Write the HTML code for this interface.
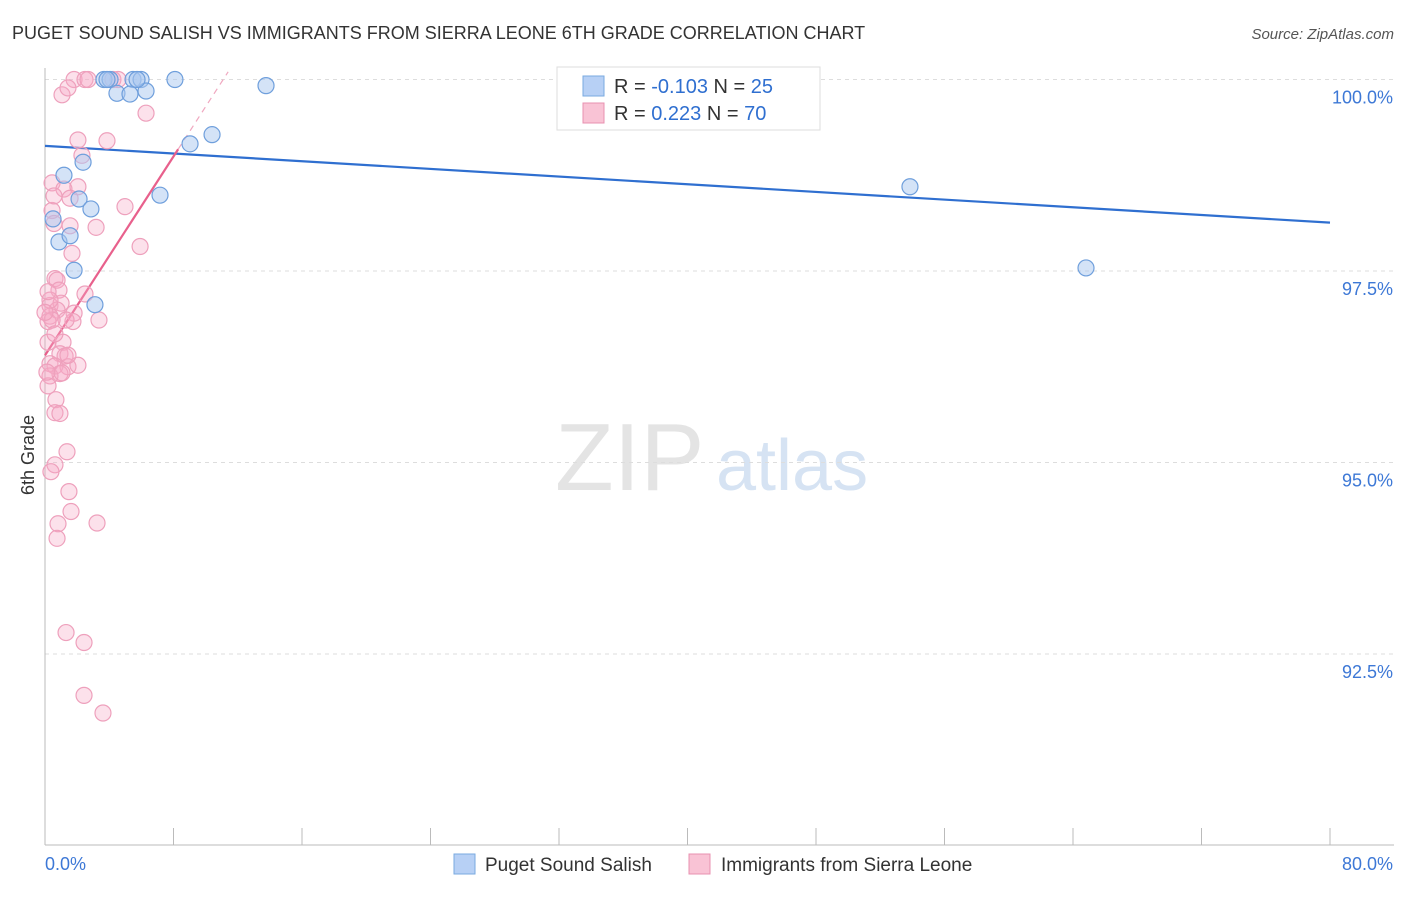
<!DOCTYPE html>
<html><head><meta charset="utf-8"><style>
body{margin:0;background:#fff;font-family:"Liberation Sans",sans-serif;}
svg text{font-family:"Liberation Sans",sans-serif;}
</style></head><body>
<svg id="chart" width="1406" height="892" viewBox="0 0 1406 892">
<text x="12" y="39" font-size="18" fill="#333">PUGET SOUND SALISH VS IMMIGRANTS FROM SIERRA LEONE 6TH GRADE CORRELATION CHART</text>
<text x="1394" y="39" font-size="15" fill="#555" font-style="italic" text-anchor="end">Source: ZipAtlas.com</text>
<text x="555" y="490" font-size="96" fill="#e4e4e4" font-family="Liberation Serif">ZIP</text>
<text x="716" y="490" font-size="72" fill="#d6e3f3">atlas</text>
<text transform="translate(34,455) rotate(-90)" font-size="18" fill="#333" text-anchor="middle">6th Grade</text>
<g id="grid"></g><g id="axes"></g><g id="lines"></g><g id="pts"></g>
<g>
<rect x="557" y="67" width="263" height="63" fill="#fff" stroke="#ddd"/>
<rect x="583" y="76" width="21" height="20" fill="#b7d0f5" stroke="#7aaae0"/>
<rect x="583" y="103" width="21" height="20" fill="#f9c3d5" stroke="#e890b0"/>
<text x="614" y="93" font-size="20" fill="#333">R = <tspan fill="#2f6fd0">-0.103</tspan>   N = <tspan fill="#2f6fd0">25</tspan></text>
<text x="614" y="120" font-size="20" fill="#333">R =  <tspan fill="#2f6fd0">0.223</tspan>   N = <tspan fill="#2f6fd0">70</tspan></text>
</g>
<g>
<rect x="454" y="854" width="21" height="20" fill="#b7d0f5" stroke="#7aaae0"/>
<text x="485" y="871" font-size="19" fill="#333">Puget Sound Salish</text>
<rect x="689" y="854" width="21" height="20" fill="#f9c3d5" stroke="#e890b0"/>
<text x="721" y="871" font-size="19" fill="#333">Immigrants from Sierra Leone</text>
</g>
</svg>
<script>
const blueX=[3.67,4.05,5.48,5.98,8.09,4.48,5.29,6.29,13.76,9.03,10.40,2.37,1.18,2.12,2.86,7.16,0.50,0.87,1.56,1.81,3.11,53.85,64.81,3.86,5.73];
const blueY=[100,100,100,100,100,99.82,99.81,99.85,99.92,99.16,99.28,98.92,98.75,98.44,98.31,98.49,98.18,97.88,97.96,97.51,97.06,98.60,97.54,100,100];
const pinkX=[1.81,2.49,2.68,4.23,4.55,1.06,1.43,6.29,2.05,3.86,2.30,0.44,1.18,2.05,1.56,4.98,0.44,0.56,1.56,3.18,1.68,5.92,0.62,0.75,0.87,2.49,0.31,1.00,0.75,1.81,3.36,0.31,0.19,1.74,1.31,0.19,1.12,0.93,1.25,0.31,0.62,1.43,2.05,0.93,0.31,0.19,0.68,0.62,0.93,1.37,0.62,0.37,1.49,1.62,0.81,3.24,0.75,1.31,2.43,2.43,3.61,0.12,0.44,0.62,1.06,0.31,0.56,0.19,1.43,0];
const pinkY=[100,100,100,100,100,99.80,99.89,99.56,99.21,99.20,99.01,98.65,98.57,98.60,98.45,98.34,98.29,98.12,98.09,98.07,97.73,97.82,97.40,97.38,97.25,97.20,97.05,97.08,96.99,96.95,96.86,96.91,96.84,96.84,96.86,96.57,96.57,96.42,96.39,96.29,96.26,96.25,96.27,96.16,96.13,96.00,95.82,95.65,95.64,95.14,94.97,94.88,94.62,94.36,94.20,94.21,94.01,92.78,92.65,91.96,91.73,96.18,96.86,96.68,96.17,97.12,98.48,97.23,96.40,96.96];
const yTicks=[100,97.5,95,92.5];
const yTickLabels=["100.0%","97.5%","95.0%","92.5%"];
const xTicks=[0,8,16,24,32,40,48,56,64,72,80];
const xLabels=["0.0%","80.0%"];
const NS="http://www.w3.org/2000/svg";
const sx=v=>45+v*(1285/80);
const sy=v=>79.5+(100-v)*76.6;
function mk(p,t,a){const e=document.createElementNS(NS,t);for(const k in a)e.setAttribute(k,a[k]);document.getElementById(p).appendChild(e);return e;}
yTicks.forEach((t,i)=>{
 const g=mk('grid','line',{x1:45,x2:1394,y1:sy(t),y2:sy(t),stroke:'#ddd','stroke-dasharray':'4,4'});
 
 
 const l=mk('grid','text',{x:1393,y:sy(t)+24,'font-size':18,fill:'#3d78d6','text-anchor':'end'});
 l.textContent=yTickLabels[i];
 
 
});
const ax=mk('axes','line',{x1:45,x2:1394,y1:845,y2:845,stroke:'#bbb'});


const ay=mk('axes','line',{x1:45,x2:45,y1:68,y2:845,stroke:'#bbb'});


xTicks.forEach(t=>{
 const k=mk('axes','line',{x1:sx(t),x2:sx(t),y1:828,y2:845,stroke:'#bbb'});
 
 
});
const xl0=mk('axes','text',{x:45,y:870,'font-size':18,fill:'#3d78d6'});xl0.textContent=xLabels[0];


const xl1=mk('axes','text',{x:1393,y:870,'font-size':18,fill:'#3d78d6','text-anchor':'end'});xl1.textContent=xLabels[1];


function reg(X,Y){const n=X.length;let mx=0,my=0;for(let i=0;i<n;i++){mx+=X[i];my+=Y[i];}mx/=n;my/=n;let sxy=0,sxx=0;for(let i=0;i<n;i++){sxy+=(X[i]-mx)*(Y[i]-my);sxx+=(X[i]-mx)**2;}const b=sxy/sxx;return [my-b*mx,b];}
const [ba,bb]=reg(blueX,blueY);
const bl=mk('lines','line',{x1:sx(0),y1:sy(ba),x2:sx(80),y2:sy(ba+bb*80),stroke:'#2f6fd0','stroke-width':2.2});


const [pa,pb]=reg(pinkX,pinkY);
const xe=Math.max(...pinkX)+2;
const pl=mk('lines','line',{x1:sx(0),y1:sy(pa),x2:sx(xe),y2:sy(pa+pb*xe),stroke:'#e8608c','stroke-width':2.2});


const xt=pb>0?Math.min(80,(100.1-pa)/pb):80;
const pd=mk('lines','line',{x1:sx(xe),y1:sy(pa+pb*xe),x2:sx(xt),y2:sy(pa+pb*xt),stroke:'#f0a8c0','stroke-width':1.2,'stroke-dasharray':'6,5'});


pinkX.forEach((x,i)=>{
 const c=mk('pts','circle',{cx:sx(x),cy:sy(pinkY[i]),r:8,fill:'rgba(246,170,198,0.35)',stroke:'#eea0bc','stroke-width':1.2});
 
 
});
blueX.forEach((x,i)=>{
 const c=mk('pts','circle',{cx:sx(x),cy:sy(blueY[i]),r:8,fill:'rgba(170,200,240,0.5)',stroke:'#6f9fdc','stroke-width':1.2});
 
 
});
</script>
</body></html>
